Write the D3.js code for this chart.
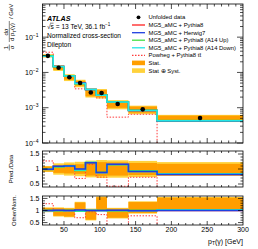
<!DOCTYPE html>
<html>
<head>
<meta charset="utf-8">
<script src="https://cdn.jsdelivr.net/npm/d3@7"></script>
<style>
  html, body { margin: 0; padding: 0; background: #fff; }
  svg { display: block; font-family: "Liberation Sans", Arial, sans-serif; }
</style>
</head>
<body>
<svg id="chart" width="258" height="249"></svg>
<script>
// bin edges in GeV and the unfolded normalised cross-section
const edges = [20, 35, 50, 65, 80, 95, 110, 140, 180, 300];
const dataVals = [0.0295, 0.0136, 0.0073, 0.0050, 0.0027, 0.0026, 0.00127, 0.00090, 0.00051];
const statUnc = [0.08, 0.13, 0.15, 0.16, 0.22, 0.23, 0.22, 0.20, 0.17];
const totUnc = [0.10, 0.19, 0.22, 0.24, 0.28, 0.30, 0.29, 0.27, 0.23];

// MG5_aMC + Pythia8 / data, then other generators / nominal
const nomOverData = [0.99, 1.08, 1.10, 0.98, 1.21, 0.88, 1.15, 0.93, 0.82];
const herwigNom = [1.00, 1.01, 1.00, 1.02, 1.00, 1.00, 1.01, 0.99, 1.00];
const a14UpNom = [1.01, 0.99, 1.01, 0.97, 1.00, 1.01, 0.99, 1.01, 1.03];
const a14DownNom = [0.99, 1.00, 0.99, 0.99, 1.01, 0.99, 1.00, 0.99, 1.02];
const powhegNom = [1.28, 0.99, 0.98, 0.70, 0.95, 0.83, 0.37, 0.78, 0.18];

// other/nom uncertainty envelope
const otherLo = [0.96, 0.78, 0.75, 1.00, 0.62, 1.00, 0.70, 0.90, 1.02];
const otherHi = [1.10, 1.10, 1.08, 1.33, 1.05, 1.55, 1.08, 1.35, 1.53];

const xTicks = [50, 100, 150, 200, 250, 300];
const ratioTicks = [0.5, 1, 1.5];
const logTicks = [1e-4, 1e-3, 1e-2, 1e-1];

const C = {
  stat: '#FF9E00', syst: '#FFD23C',
  nom: '#FF2020', herwig: '#1F3FE0', up: '#44E044', down: '#22E6E6', powheg: '#FF3B3B'
};

const svg = d3.select('#chart');
const X0 = 42.5, X1 = 243;
const x = d3.scaleLinear([20, 300], [X0, X1]);
const yMain = d3.scaleLog([1e-4, 0.87], [143, 4]);
const yR1 = d3.scaleLinear([0.4, 1.6], [187, 151]);
const yR2 = d3.scaleLinear([0.4, 1.6], [225, 196]);

const bins = dataVals.map((v, i) => ({ lo: edges[i], hi: edges[i + 1], i }));
const mul = (a, b) => a.map((v, i) => v * b[i]);

const nomVals = mul(dataVals, nomOverData);
const powhegVals = mul(nomVals, powhegNom);

const stepLine = (vals, y) => {
  const pts = [];
  bins.forEach(b => { pts.push([x(b.lo), y(vals[b.i])]); pts.push([x(b.hi), y(vals[b.i])]); });
  return d3.line()(pts);
};

function clip(id, top, bottom) {
  svg.append('clipPath').attr('id', id).append('rect')
    .attr('x', X0).attr('y', top).attr('width', X1 - X0).attr('height', bottom - top);
  return `url(#${id})`;
}

function bands(g, y, lo, hi, color) {
  g.selectAll(null).data(bins).join('rect')
    .attr('x', b => x(b.lo)).attr('width', b => x(b.hi) - x(b.lo))
    .attr('y', b => y(hi[b.i])).attr('height', b => y(lo[b.i]) - y(hi[b.i]))
    .attr('fill', color);
}

function hist(g, vals, y, color, w, dash) {
  g.append('path').attr('d', stepLine(vals, y)).attr('fill', 'none')
    .attr('stroke', color).attr('stroke-width', w)
    .attr('stroke-dasharray', dash);
}

function frame(top, bottom) {
  svg.append('rect').attr('x', X0).attr('y', top).attr('width', X1 - X0).attr('height', bottom - top)
    .attr('fill', 'none').attr('stroke', '#000').attr('stroke-width', 0.8);
}

function xTickMarks(top, bottom, maj) {
  const g = svg.append('g').attr('stroke', '#000').attr('stroke-width', 0.7);
  for (let v = 30; v < 300; v += 10) {
    const len = v % 50 === 0 ? maj : maj / 2;
    g.append('line').attr('x1', x(v)).attr('x2', x(v)).attr('y1', bottom).attr('y2', bottom - len);
    g.append('line').attr('x1', x(v)).attr('x2', x(v)).attr('y1', top).attr('y2', top + len);
  }
}

function linYTicks(y) {
  const g = svg.append('g').attr('stroke', '#000').attr('stroke-width', 0.7);
  for (let k = 5; k <= 15; k++) {
    const v = k / 10, len = k % 5 === 0 ? 5 : 2.5;
    g.append('line').attr('x1', X0).attr('x2', X0 + len).attr('y1', y(v)).attr('y2', y(v));
    g.append('line').attr('x1', X1).attr('x2', X1 - len).attr('y1', y(v)).attr('y2', y(v));
  }
  svg.append('g').selectAll(null).data(ratioTicks).join('text')
    .attr('x', 39.5).attr('y', d => y(d) + 2.4).attr('text-anchor', 'end')
    .attr('font-size', 7).text(d => d);
}

// ---------- main panel ----------
const gMain = svg.append('g').attr('clip-path', clip('cm', 4, 143));
bands(gMain, yMain, mul(dataVals, totUnc.map(u => 1 - u)), mul(dataVals, totUnc.map(u => 1 + u)), C.syst);
bands(gMain, yMain, mul(dataVals, statUnc.map(u => 1 - u)), mul(dataVals, statUnc.map(u => 1 + u)), C.stat);
hist(gMain, powhegVals, yMain, C.powheg, 1, '1.5,1.5');
hist(gMain, nomVals, yMain, C.nom, 1.5);
hist(gMain, mul(nomVals, herwigNom), yMain, C.herwig, 1.5);
hist(gMain, mul(nomVals, a14UpNom), yMain, C.up, 1.5);
hist(gMain, mul(nomVals, a14DownNom), yMain, C.down, 1.5);
gMain.selectAll(null).data(bins).join('circle')
  .attr('cx', b => x((b.lo + b.hi) / 2)).attr('cy', b => yMain(dataVals[b.i])).attr('r', 2.3)
  .attr('fill', '#000');

frame(4, 143);
xTickMarks(4, 143, 5);
{
  const g = svg.append('g').attr('stroke', '#000').attr('stroke-width', 0.7);
  for (let n = -4; n <= 0; n++) {
    for (let k = 1; k <= 9; k++) {
      const v = k * Math.pow(10, n);
      if (v < 1e-4 || v > 0.87) continue;
      const len = k === 1 ? 6 : 3;
      g.append('line').attr('x1', X0).attr('x2', X0 + len).attr('y1', yMain(v)).attr('y2', yMain(v));
      g.append('line').attr('x1', X1).attr('x2', X1 - len).attr('y1', yMain(v)).attr('y2', yMain(v));
    }
  }
  const t = svg.append('g').selectAll(null).data(logTicks).join('text')
    .attr('x', 38.5).attr('y', d => yMain(d) + 2.5).attr('text-anchor', 'end').attr('font-size', 7);
  t.append('tspan').text('10');
  t.append('tspan').attr('dy', -3).attr('font-size', 5).text(d => '\u2212' + Math.round(-Math.log10(d)));
}

// ATLAS label
svg.append('text').attr('x', 47).attr('y', 20.5).attr('font-size', 7.2)
  .attr('font-weight', 'bold').attr('font-style', 'italic').text('ATLAS');
{
  const t = svg.append('text').attr('x', 47).attr('y', 28.8).attr('font-size', 6.6);
  t.append('tspan').text('\u221As = 13 TeV, 36.1 fb');
  t.append('tspan').attr('dy', -2.6).attr('font-size', 4.6).text('\u22121');
  svg.append('line').attr('x1', 50).attr('x2', 53.5).attr('y1', 23.2).attr('y2', 23.2)
    .attr('stroke', '#000').attr('stroke-width', 0.5);
}
svg.append('text').attr('x', 47).attr('y', 37.5).attr('font-size', 6.6).text('Normalized cross-section');
svg.append('text').attr('x', 47).attr('y', 46.5).attr('font-size', 6.6).text('Dilepton');

// legend
const legendRows = [
  { label: 'Unfolded data', type: 'dot' },
  { label: 'MG5_aMC + Pythia8', type: 'line', color: C.nom },
  { label: 'MG5_aMC + Herwig7', type: 'line', color: C.herwig },
  { label: 'MG5_aMC + Pythia8 (A14 Up)', type: 'line', color: C.up },
  { label: 'MG5_aMC + Pythia8 (A14 Down)', type: 'line', color: C.down },
  { label: 'Powheg + Pythia8 t\u0074\u0304', type: 'dash', color: C.powheg },
  { label: 'Stat.', type: 'box', color: C.stat },
  { label: 'Stat \u2295 Syst.', type: 'box', color: C.syst }
];
const legendY = [17.3, 25, 32.7, 40.2, 47.8, 55.3, 62.9, 70.6];
legendRows.forEach((r, i) => {
  const cy = legendY[i];
  if (r.type === 'dot') svg.append('circle').attr('cx', 138.5).attr('cy', cy).attr('r', 1.9).attr('fill', '#000');
  if (r.type === 'line' || r.type === 'dash')
    svg.append('line').attr('x1', 132).attr('x2', 145).attr('y1', cy).attr('y2', cy)
      .attr('stroke', r.color).attr('stroke-width', 1.3)
      .attr('stroke-dasharray', r.type === 'dash' ? '1.5,1.5' : null);
  if (r.type === 'box')
    svg.append('rect').attr('x', 132).attr('y', cy - 2.3).attr('width', 13).attr('height', 4.6).attr('fill', r.color);
  svg.append('text').attr('x', 148.5).attr('y', cy + 2).attr('font-size', 5.9).text(r.label);
});

// y title (rotated)
{
  const rot = (X, Y, s, size, anchor) => svg.append('text')
    .attr('transform', `translate(${X},${Y}) rotate(-90)`)
    .attr('text-anchor', anchor || 'middle').attr('font-size', size || 6).text(s);
  rot(7.5, 47.5, '1');
  rot(13.5, 47.5, '\u03C3');
  svg.append('line').attr('x1', 9.3).attr('x2', 9.3).attr('y1', 44.5).attr('y2', 50.5).attr('stroke', '#000').attr('stroke-width', 0.5);
  rot(7.5, 32, 'd\u03C3');
  const dp = svg.append('text').attr('transform', 'translate(14,32) rotate(-90)')
    .attr('text-anchor', 'middle').attr('font-size', 6);
  dp.append('tspan').text('d p');
  dp.append('tspan').attr('font-size', 4.2).attr('dy', 1.5).text('T');
  dp.append('tspan').attr('dy', -1.5).text('(\u03B3)');
  svg.append('line').attr('x1', 9.3).attr('x2', 9.3).attr('y1', 21).attr('y2', 42).attr('stroke', '#000').attr('stroke-width', 0.5);
  rot(12.5, 19, '/ GeV', 6, 'start');
}

// ---------- ratio panel: Pred./Data ----------
const gR1 = svg.append('g').attr('clip-path', clip('c1', 151, 187));
bands(gR1, yR1, totUnc.map(u => 1 - u), totUnc.map(u => 1 + u), C.syst);
bands(gR1, yR1, statUnc.map(u => 1 - u), statUnc.map(u => 1 + u), C.stat);
hist(gR1, mul(nomOverData, powhegNom), yR1, C.powheg, 1, '1.5,1.5');
hist(gR1, nomOverData, yR1, C.nom, 1.5);
hist(gR1, mul(nomOverData, a14UpNom), yR1, C.up, 1.5);
hist(gR1, mul(nomOverData, a14DownNom), yR1, C.down, 1.5);
hist(gR1, mul(nomOverData, herwigNom), yR1, C.herwig, 1.5);
frame(151, 187);
xTickMarks(151, 187, 4);
linYTicks(yR1);
svg.append('text').attr('transform', 'translate(12.5,169) rotate(-90)').attr('text-anchor', 'middle')
  .attr('font-size', 6).text('Pred./Data');

// ---------- ratio panel: Other/Nom. ----------
const gR2 = svg.append('g').attr('clip-path', clip('c2', 196, 225));
bands(gR2, yR2, otherLo.map(v => v - 0.03), otherHi.map(v => v + 0.03), C.syst);
bands(gR2, yR2, otherLo, otherHi, C.stat);
hist(gR2, powhegNom, yR2, C.powheg, 1, '1.5,1.5');
hist(gR2, bins.map(() => 1), yR2, C.nom, 1.5);
hist(gR2, a14UpNom, yR2, C.up, 1.5);
hist(gR2, a14DownNom, yR2, C.down, 1.5);
hist(gR2, herwigNom, yR2, C.herwig, 1.5);
frame(196, 225);
xTickMarks(196, 225, 4);
linYTicks(yR2);
svg.append('text').attr('transform', 'translate(16,210.5) rotate(-90)').attr('text-anchor', 'middle')
  .attr('font-size', 6).text('Other/Nom.');

// x labels
svg.append('g').selectAll(null).data(xTicks).join('text')
  .attr('x', d => x(d)).attr('y', 232).attr('text-anchor', 'middle').attr('font-size', 7).text(d => d);
{
  const t = svg.append('text').attr('x', 243).attr('y', 243.5).attr('text-anchor', 'end').attr('font-size', 7);
  t.append('tspan').text('p');
  t.append('tspan').attr('font-size', 5).attr('dy', 1.8).text('T');
  t.append('tspan').attr('dy', -1.8).text('(\u03B3) [GeV]');
}
</script>
</body>
</html>
